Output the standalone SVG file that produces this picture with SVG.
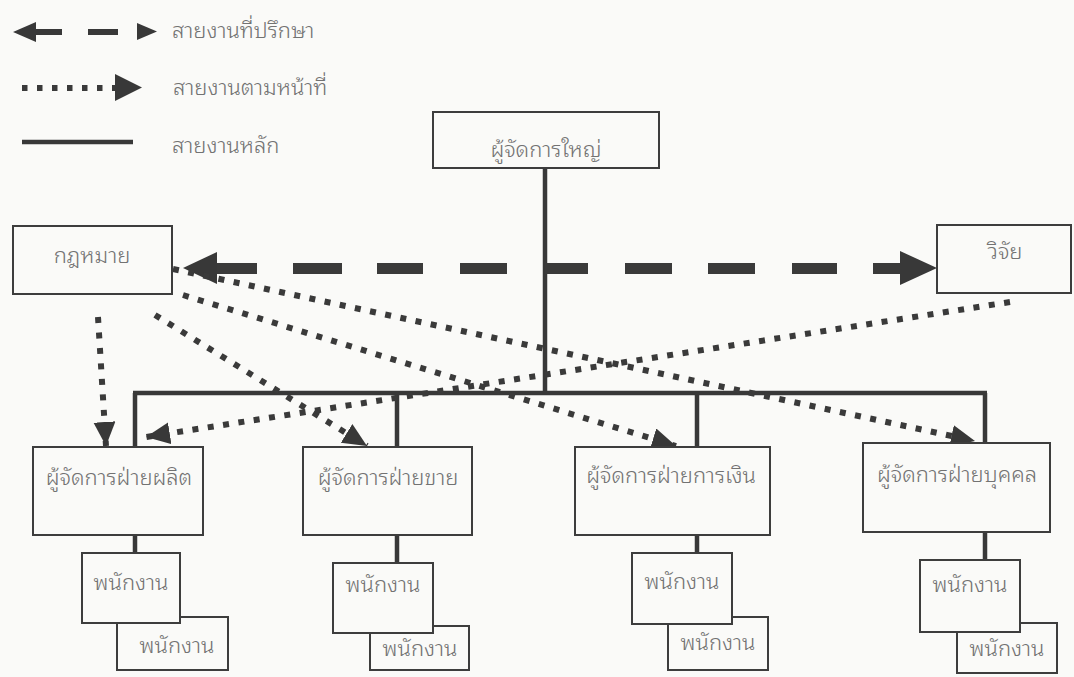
<svg xmlns="http://www.w3.org/2000/svg" width="1074" height="677" viewBox="0 0 1074 677">
  <defs>
    <style>
      .box { fill: #fafaf8; stroke: #3d3d3d; stroke-width: 2; }
      .lbl { font-family: "Noto Sans Thai Looped", "Noto Sans Thai", "Loma", "Garuda", "DejaVu Sans", sans-serif; font-size: 22px; font-weight: 300; fill: #727272; }
      .mid { text-anchor: middle; }
      .main { fill: none; stroke: #383838; stroke-width: 4.5; }
      .duty { fill: none; stroke: #3a3a3a; stroke-width: 6; stroke-dasharray: 6 9.5; marker-end: url(#duty-head); }
      .advise { fill: none; stroke: #3a3a3a; stroke-width: 11; }
      .head { fill: #383838; }
    </style>
    <marker id="duty-head" markerUnits="userSpaceOnUse" markerWidth="26" markerHeight="24" refX="24" refY="11" orient="auto">
      <path d="M0,0 L24,11 L0,22 z" fill="#383838"/>
    </marker>
  </defs>

  <rect width="1074" height="677" fill="#fafaf8"/>

  <!-- legend -->
  <g id="legend">
    <polygon class="head" points="13,32 36,22 36,42"/>
    <line x1="35" y1="32" x2="62" y2="32" stroke="#383838" stroke-width="6"/>
    <line x1="88" y1="32" x2="118" y2="32" stroke="#383838" stroke-width="6"/>
    <polygon class="head" points="137,23 157,31.5 137,40"/>
    <text class="lbl" x="172" y="38">สายงานที่ปรึกษา</text>

    <line x1="22" y1="88" x2="116" y2="88" stroke="#3a3a3a" stroke-width="6" stroke-dasharray="5.5 9.5"/>
    <polygon class="head" points="115,74 142,87.5 115,101"/>
    <text class="lbl" x="173" y="95">สายงานตามหน้าที่</text>

    <line x1="22" y1="142" x2="133" y2="142" stroke="#383838" stroke-width="4.5"/>
    <text class="lbl" x="172" y="153">สายงานหลัก</text>
  </g>

  <!-- reporting lines -->
  <g id="connectors">
    <!-- main line of command -->
    <path class="main" d="M545,168 V393 M133,393 H987 M135,393 V447 M397,393 V447 M697,393 V447 M985,393 V443"/>
    <path class="main" d="M135,535 V553 M397,535 V563 M697,535 V553 M985,532 V560"/>

    <!-- advisory line between legal and research -->
    <path class="advise" d="M216,268.5 H257 M293,268.5 H342 M377,268.5 H423 M460,268.5 H507 M545,268.5 H588 M625,268.5 H672 M708,268.5 H755 M792,268.5 H837 M873,268.5 H901"/>
    <polygon class="head" points="183,268 217,252 217,284"/>
    <polygon class="head" points="937,268 900,251 900,285"/>

    <!-- functional lines -->
    <path class="duty" d="M98,317 L106,446"/>
    <path class="duty" d="M155,315 L367,446"/>
    <path class="duty" d="M183,295 L676,446"/>
    <path class="duty" d="M173,269 L975,441"/>
    <path class="duty" d="M1010,302 L146,437"/>
  </g>

  <g id="ceo">
    <rect class="box" x="433" y="112" width="226" height="56"/>
    <text class="lbl mid" x="546" y="157">ผู้จัดการใหญ่</text>
  </g>

  <g id="legal">
    <rect class="box" x="13" y="226" width="159" height="68"/>
    <text class="lbl mid" x="92" y="263">กฎหมาย</text>
  </g>

  <g id="research">
    <rect class="box" x="937" y="225" width="134" height="68"/>
    <text class="lbl mid" x="1005" y="259">วิจัย</text>
  </g>

  <g id="production">
    <rect class="box" x="33" y="447" width="170" height="88"/>
    <text class="lbl mid" x="119" y="485">ผู้จัดการฝ่ายผลิต</text>
  </g>
  <g id="production-staff-2">
    <rect class="box" x="117" y="617" width="111" height="53"/>
    <text class="lbl mid" x="177" y="653">พนักงาน</text>
  </g>
  <g id="production-staff-1">
    <rect class="box" x="82" y="553" width="98" height="70"/>
    <text class="lbl mid" x="131" y="590">พนักงาน</text>
  </g>

  <g id="sales">
    <rect class="box" x="303" y="447" width="169" height="88"/>
    <text class="lbl mid" x="388" y="485">ผู้จัดการฝ่ายขาย</text>
  </g>
  <g id="sales-staff-2">
    <rect class="box" x="370" y="626" width="99" height="44"/>
    <text class="lbl mid" x="420" y="656">พนักงาน</text>
  </g>
  <g id="sales-staff-1">
    <rect class="box" x="333" y="563" width="100" height="70"/>
    <text class="lbl mid" x="383" y="592">พนักงาน</text>
  </g>

  <g id="finance">
    <rect class="box" x="575" y="447" width="195" height="88"/>
    <text class="lbl mid" x="671" y="483">ผู้จัดการฝ่ายการเงิน</text>
  </g>
  <g id="finance-staff-2">
    <rect class="box" x="668" y="617" width="100" height="53"/>
    <text class="lbl mid" x="718" y="650">พนักงาน</text>
  </g>
  <g id="finance-staff-1">
    <rect class="box" x="632" y="553" width="100" height="71"/>
    <text class="lbl mid" x="682" y="589">พนักงาน</text>
  </g>

  <g id="personnel">
    <rect class="box" x="863" y="443" width="187" height="89"/>
    <text class="lbl mid" x="957" y="482">ผู้จัดการฝ่ายบุคคล</text>
  </g>
  <g id="personnel-staff-2">
    <rect class="box" x="957" y="623" width="100" height="50"/>
    <text class="lbl mid" x="1007" y="656">พนักงาน</text>
  </g>
  <g id="personnel-staff-1">
    <rect class="box" x="920" y="560" width="100" height="72"/>
    <text class="lbl mid" x="970" y="592">พนักงาน</text>
  </g>
</svg>
